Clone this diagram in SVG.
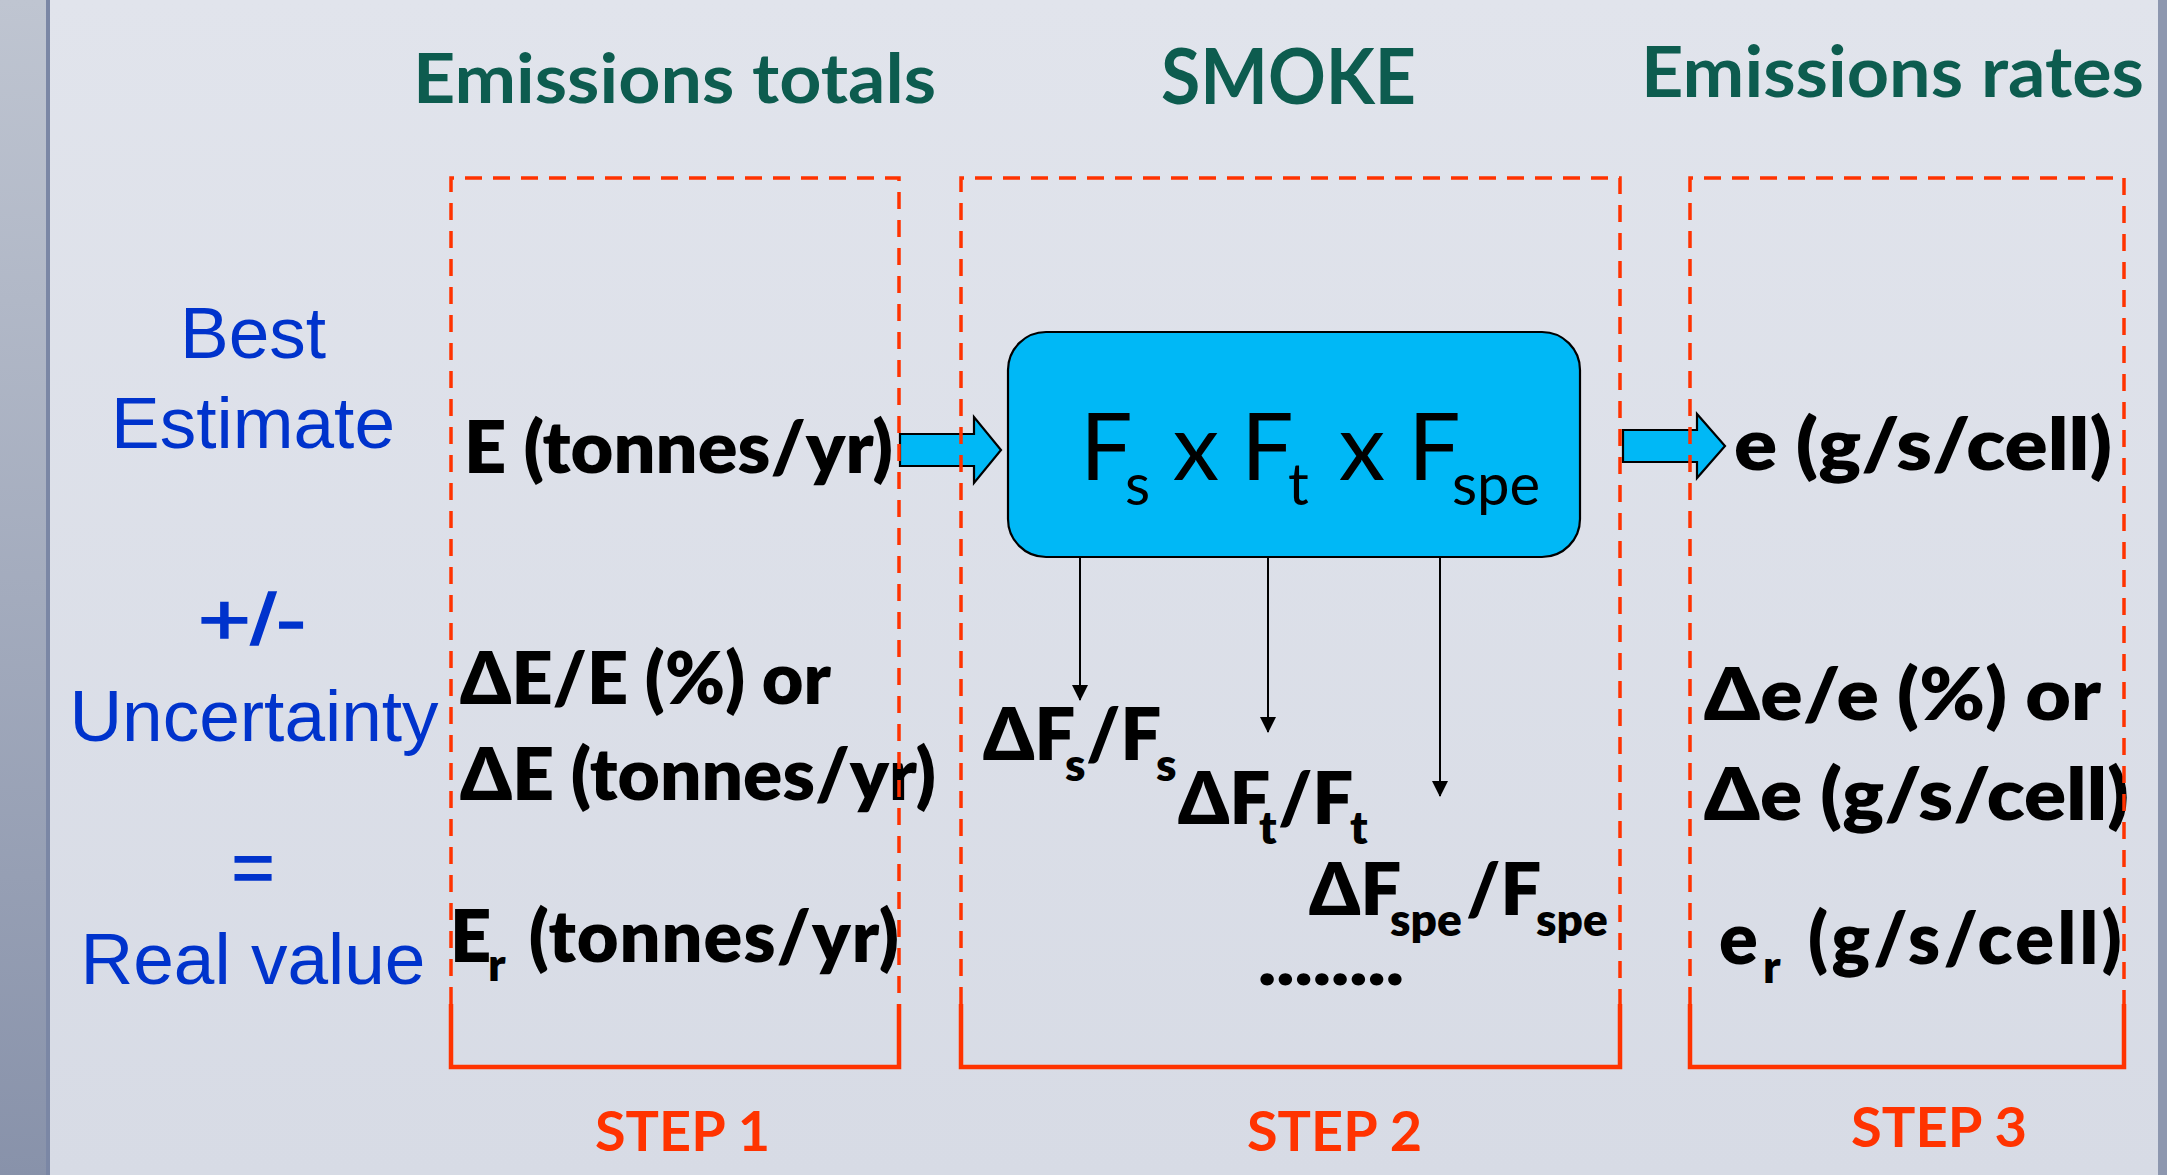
<svg xmlns="http://www.w3.org/2000/svg" width="2167" height="1175" viewBox="0 0 2167 1175">
<defs>
<linearGradient id="bg" x1="0" y1="0" x2="0" y2="1">
<stop offset="0" stop-color="#E1E4EC"/>
<stop offset="1" stop-color="#D7DBE5"/>
</linearGradient>
<linearGradient id="band" x1="0" y1="0" x2="0" y2="1">
<stop offset="0" stop-color="#BFC5D1"/>
<stop offset="1" stop-color="#8892AA"/>
</linearGradient>
<marker id="ah" markerWidth="16" markerHeight="16" refX="15" refY="8" orient="auto" markerUnits="userSpaceOnUse">
<path d="M0,0 L16,8 L0,16 Z" fill="#000"/>
</marker>
<style>
.title{font-family:Lato,"Open Sans","Noto Sans",sans-serif;font-weight:700;fill:#0D5C4F}
.blue{font-family:"Liberation Sans",Arial,sans-serif;fill:#0033CC;text-anchor:middle;font-size:73px}
.thick{stroke:#0033CC;stroke-width:1.6}
.bk{font-family:Lato,"Open Sans","Noto Sans",sans-serif;font-weight:800;fill:#000;font-size:72px}
.sub{font-size:46px}
.formula{font-family:Lato,"Open Sans","Noto Sans",sans-serif;font-weight:400;fill:#000;font-size:93px}
.fsub{font-size:58px}
.step{font-family:Lato,"Open Sans","Noto Sans",sans-serif;font-weight:700;fill:#FF3300;font-size:56px}
.frame{fill:none;stroke:#FF3300;stroke-width:3.5;stroke-dasharray:17 11}
.solid{fill:none;stroke:#FF3300;stroke-width:4.5}
.blk{fill:#00B8F6;stroke:#000;stroke-width:2.2}
.pin{fill:none;stroke:#000;stroke-width:2}
</style>
</defs>

<g id="background">
<rect x="0" y="0" width="2167" height="1175" fill="url(#bg)"/>
<rect x="0" y="0" width="46" height="1175" fill="url(#band)"/>
<rect x="46" y="0" width="4" height="1175" fill="#7B87A5"/>
<rect x="2158" y="0" width="9" height="1175" fill="#8D97AF"/>
</g>

<g id="titles">
<text class="title" x="413" y="103" font-size="69" textLength="523" lengthAdjust="spacingAndGlyphs">Emissions totals</text>
<text class="title" x="1161" y="104" font-size="76" textLength="255" lengthAdjust="spacingAndGlyphs">SMOKE</text>
<text class="title" x="1641" y="97" font-size="71" textLength="503" lengthAdjust="spacingAndGlyphs">Emissions rates</text>
</g>

<g id="row-labels">
<text class="blue" x="253" y="358">Best</text>
<text class="blue" x="253" y="448">Estimate</text>
<text class="blue thick" x="198" y="644" font-size="100" style="text-anchor:start" textLength="108" lengthAdjust="spacingAndGlyphs">+/-</text>
<text class="blue" x="254" y="741">Uncertainty</text>
<text class="blue thick" x="253" y="892" font-size="100">=</text>
<text class="blue" x="253" y="984">Real value</text>
</g>

<g id="connectors">
<polygon class="blk" points="900,434 974,434 974,417 1001,450 974,483 974,466 900,466"/>
<polygon class="blk" points="1623,430 1697,430 1697,414 1725,446 1697,478 1697,462 1623,462"/>
<line class="pin" x1="1080" y1="494" x2="1080" y2="700" marker-end="url(#ah)"/>
<line class="pin" x1="1268" y1="494" x2="1268" y2="732" marker-end="url(#ah)"/>
<line class="pin" x1="1440" y1="507" x2="1440" y2="796" marker-end="url(#ah)"/>
</g>

<g id="step1">
<text class="bk" x="464" y="473" textLength="429" lengthAdjust="spacingAndGlyphs">E (tonnes/yr)</text>
<text class="bk" x="460" y="704" textLength="371" lengthAdjust="spacingAndGlyphs">ΔE/E (%) or</text>
<text class="bk" x="460" y="800" textLength="476" lengthAdjust="spacingAndGlyphs">ΔE (tonnes/yr)</text>
<text class="bk" y="962"><tspan x="450">E</tspan><tspan class="sub" x="488" y="981">r</tspan><tspan x="511" y="962" letter-spacing="1"> (tonnes/yr)</tspan></text>
<text class="step" x="595" y="1151" textLength="175" lengthAdjust="spacingAndGlyphs">STEP 1</text>
</g>

<g id="step2">
<g id="smoke-box">
<rect x="1008" y="332" width="572" height="225" rx="38" ry="38" class="blk"/>
<text class="formula" y="480"><tspan x="1080">F</tspan><tspan class="fsub" x="1125" y="505">s</tspan><tspan x="1149" y="480"> x </tspan><tspan x="1241">F</tspan><tspan class="fsub" x="1288" y="505">t</tspan><tspan x="1315" y="480"> x </tspan><tspan x="1408">F</tspan><tspan class="fsub" x="1452" y="505">spe</tspan></text>
</g>
<text class="bk" y="760"><tspan x="983">ΔF</tspan><tspan class="sub" x="1065" y="781">s</tspan><tspan x="1086" y="760">/F</tspan><tspan class="sub" x="1156" y="781">s</tspan></text>
<text class="bk" y="824"><tspan x="1178">ΔF</tspan><tspan class="sub" x="1259" y="844">t</tspan><tspan x="1278" y="824">/F</tspan><tspan class="sub" x="1350" y="844">t</tspan></text>
<text class="bk" y="915"><tspan x="1309">ΔF</tspan><tspan class="sub" x="1390" y="936">spe</tspan><tspan x="1466" y="915">/F</tspan><tspan class="sub" x="1536" y="936">spe</tspan></text>
<text class="bk" x="1258" y="985" textLength="146" lengthAdjust="spacingAndGlyphs">........</text>
<text class="step" x="1247" y="1151" textLength="175" lengthAdjust="spacingAndGlyphs">STEP 2</text>
</g>

<g id="step3">
<text class="bk" x="1734" y="470" textLength="378" lengthAdjust="spacingAndGlyphs">e (g/s/cell)</text>
<text class="bk" x="1704" y="720" textLength="397" lengthAdjust="spacingAndGlyphs">Δe/e (%) or</text>
<text class="bk" x="1704" y="820" textLength="425" lengthAdjust="spacingAndGlyphs">Δe (g/s/cell)</text>
<text class="bk" y="964"><tspan x="1719">e</tspan><tspan class="sub" x="1763" y="983">r</tspan><tspan x="1788" y="964" letter-spacing="3.3"> (g/s/cell)</tspan></text>
<text class="step" x="1851" y="1147" textLength="176" lengthAdjust="spacingAndGlyphs">STEP 3</text>
</g>

<g id="frames">
<path class="frame" d="M451,1004 V178 H899 V1004"/>
<path class="solid" d="M451,1004 V1067 H899 V1004"/>
<path class="frame" d="M961,1004 V178 H1620 V1004"/>
<path class="solid" d="M961,1004 V1067 H1620 V1004"/>
<path class="frame" d="M1690,1004 V178 H2124 V1004"/>
<path class="solid" d="M1690,1004 V1067 H2124 V1004"/>
</g>
</svg>
